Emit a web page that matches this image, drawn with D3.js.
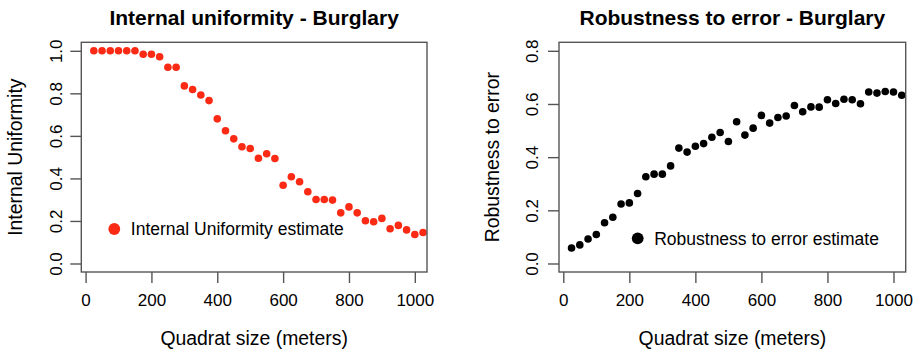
<!DOCTYPE html>
<html>
<head>
<meta charset="utf-8">
<script src="https://cdn.jsdelivr.net/npm/d3@7"></script>
<style>
  body { margin: 0; background: #fff; }
  svg { display: block; font-family: "Liberation Sans", Arial, Helvetica, sans-serif; }
</style>
</head>
<body>
<div id="chart"></div>
<script>
// Quadrat sizes (meters) shared by both panels
const quadratSizes = [25, 50, 75, 100, 125, 150, 175, 200, 225, 250, 275, 300, 325, 350, 375, 400,
  425, 450, 475, 500, 525, 550, 575, 600, 625, 650, 675, 700, 725, 750, 775, 800, 825, 850, 875,
  900, 925, 950, 975, 1000, 1025];

// Internal uniformity estimate
const uniformityValues = [1.0, 1.0, 1.0, 1.0, 1.0, 1.0, 0.984, 0.984, 0.972, 0.923, 0.923, 0.835,
  0.818, 0.792, 0.766, 0.680, 0.624, 0.586, 0.549, 0.541, 0.495, 0.516, 0.494, 0.368, 0.408, 0.384,
  0.337, 0.301, 0.301, 0.298, 0.238, 0.266, 0.238, 0.201, 0.196, 0.212, 0.163, 0.179, 0.158, 0.136, 0.146];

// Robustness to error estimate
const robustnessValues = [0.058, 0.070, 0.092, 0.109, 0.153, 0.174, 0.224, 0.228, 0.263, 0.326, 0.336,
  0.336, 0.367, 0.434, 0.419, 0.441, 0.451, 0.475, 0.493, 0.459, 0.533, 0.483, 0.509, 0.557, 0.528,
  0.549, 0.555, 0.594, 0.571, 0.589, 0.588, 0.616, 0.602, 0.618, 0.616, 0.601, 0.645, 0.641, 0.647,
  0.645, 0.633];

// Tick labels
const xTicks = [0, 200, 400, 600, 800, 1000];
const uniformityTicks = [0.0, 0.2, 0.4, 0.6, 0.8, 1.0];
const robustnessTicks = [0.0, 0.2, 0.4, 0.6, 0.8];

const width = 918, height = 350;
const lineColor = "#555";

const svg = d3.select("#chart")
  .append("svg")
  .attr("width", width)
  .attr("height", height);

const panels = [
  {
    title: "Internal uniformity - Burglary",
    yLabel: "Internal Uniformity",
    legend: "Internal Uniformity estimate",
    values: uniformityValues,
    yTicks: uniformityTicks,
    yDomain: [-0.04, 1.04],
    color: "#fa2a14",
    box: { left: 81.3, right: 427, top: 42.3, bottom: 272 },
    yLabelX: 22,
    tickLabelX: 62,
    legendPos: [114.3, 229]
  },
  {
    title: "Robustness to error - Burglary",
    yLabel: "Robustness to error",
    legend: "Robustness to error estimate",
    values: robustnessValues,
    yTicks: robustnessTicks,
    yDomain: [-0.032, 0.832],
    color: "#000",
    box: { left: 559, right: 905.7, top: 42.3, bottom: 272 },
    yLabelX: 499,
    tickLabelX: 538,
    legendPos: [637.7, 238.3]
  }
];

panels.forEach(p => {
  const b = p.box;
  const cx = (b.left + b.right) / 2;

  const x = d3.scaleLinear().domain([-13, 1037]).range([b.left, b.right]);
  const y = d3.scaleLinear().domain(p.yDomain).range([b.bottom, b.top]);

  const g = svg.append("g");

  // Title
  g.append("text")
    .attr("x", cx)
    .attr("y", 25)
    .attr("text-anchor", "middle")
    .attr("font-size", "21px")
    .attr("font-weight", "bold")
    .text(p.title);

  // Points
  g.append("g")
    .selectAll("circle")
    .data(quadratSizes)
    .join("circle")
    .attr("cx", d => x(d))
    .attr("cy", (d, i) => y(p.values[i]))
    .attr("r", 3.8)
    .attr("fill", p.color);

  // Plot box
  g.append("rect")
    .attr("x", b.left)
    .attr("y", b.top)
    .attr("width", b.right - b.left)
    .attr("height", b.bottom - b.top)
    .attr("fill", "none")
    .attr("stroke", lineColor)
    .attr("stroke-width", 1.4);

  // X axis
  const xAxis = g.append("g")
    .attr("transform", `translate(0,${b.bottom})`)
    .call(d3.axisBottom(x).tickValues(xTicks).tickSize(11).tickFormat(d3.format("d")));
  xAxis.select(".domain").remove();
  xAxis.selectAll(".tick line").attr("stroke", lineColor).attr("stroke-width", 1.4);
  xAxis.selectAll(".tick text")
    .attr("y", 0)
    .attr("dy", 0)
    .attr("transform", "translate(0,34)")
    .attr("font-size", "17px")
    .attr("fill", "#000")
    .attr("font-family", null);

  // Y axis
  const yAxis = g.append("g")
    .attr("transform", `translate(${b.left},0)`)
    .call(d3.axisLeft(y).tickValues(p.yTicks).tickSize(11).tickFormat(d3.format(".1f")));
  yAxis.select(".domain").remove();
  yAxis.selectAll(".tick line").attr("stroke", lineColor).attr("stroke-width", 1.4);
  yAxis.selectAll(".tick text")
    .attr("x", 0)
    .attr("dy", 0)
    .attr("text-anchor", "middle")
    .attr("transform", `translate(${p.tickLabelX - b.left},0) rotate(-90)`)
    .attr("font-size", "17px")
    .attr("fill", "#000")
    .attr("font-family", null);

  // Axis titles
  g.append("text")
    .attr("x", cx)
    .attr("y", 345)
    .attr("text-anchor", "middle")
    .attr("font-size", "19.4px")
    .text("Quadrat size (meters)");

  g.append("text")
    .attr("transform", `translate(${p.yLabelX},${(b.top + b.bottom) / 2}) rotate(-90)`)
    .attr("text-anchor", "middle")
    .attr("font-size", "19.4px")
    .text(p.yLabel);

  // Legend (no box)
  g.append("circle")
    .attr("cx", p.legendPos[0])
    .attr("cy", p.legendPos[1])
    .attr("r", 5.9)
    .attr("fill", p.color);
  g.append("text")
    .attr("x", p.legendPos[0] + 16.5)
    .attr("y", p.legendPos[1] + 6.3)
    .attr("font-size", "17.5px")
    .text(p.legend);
});
</script>
</body>
</html>
